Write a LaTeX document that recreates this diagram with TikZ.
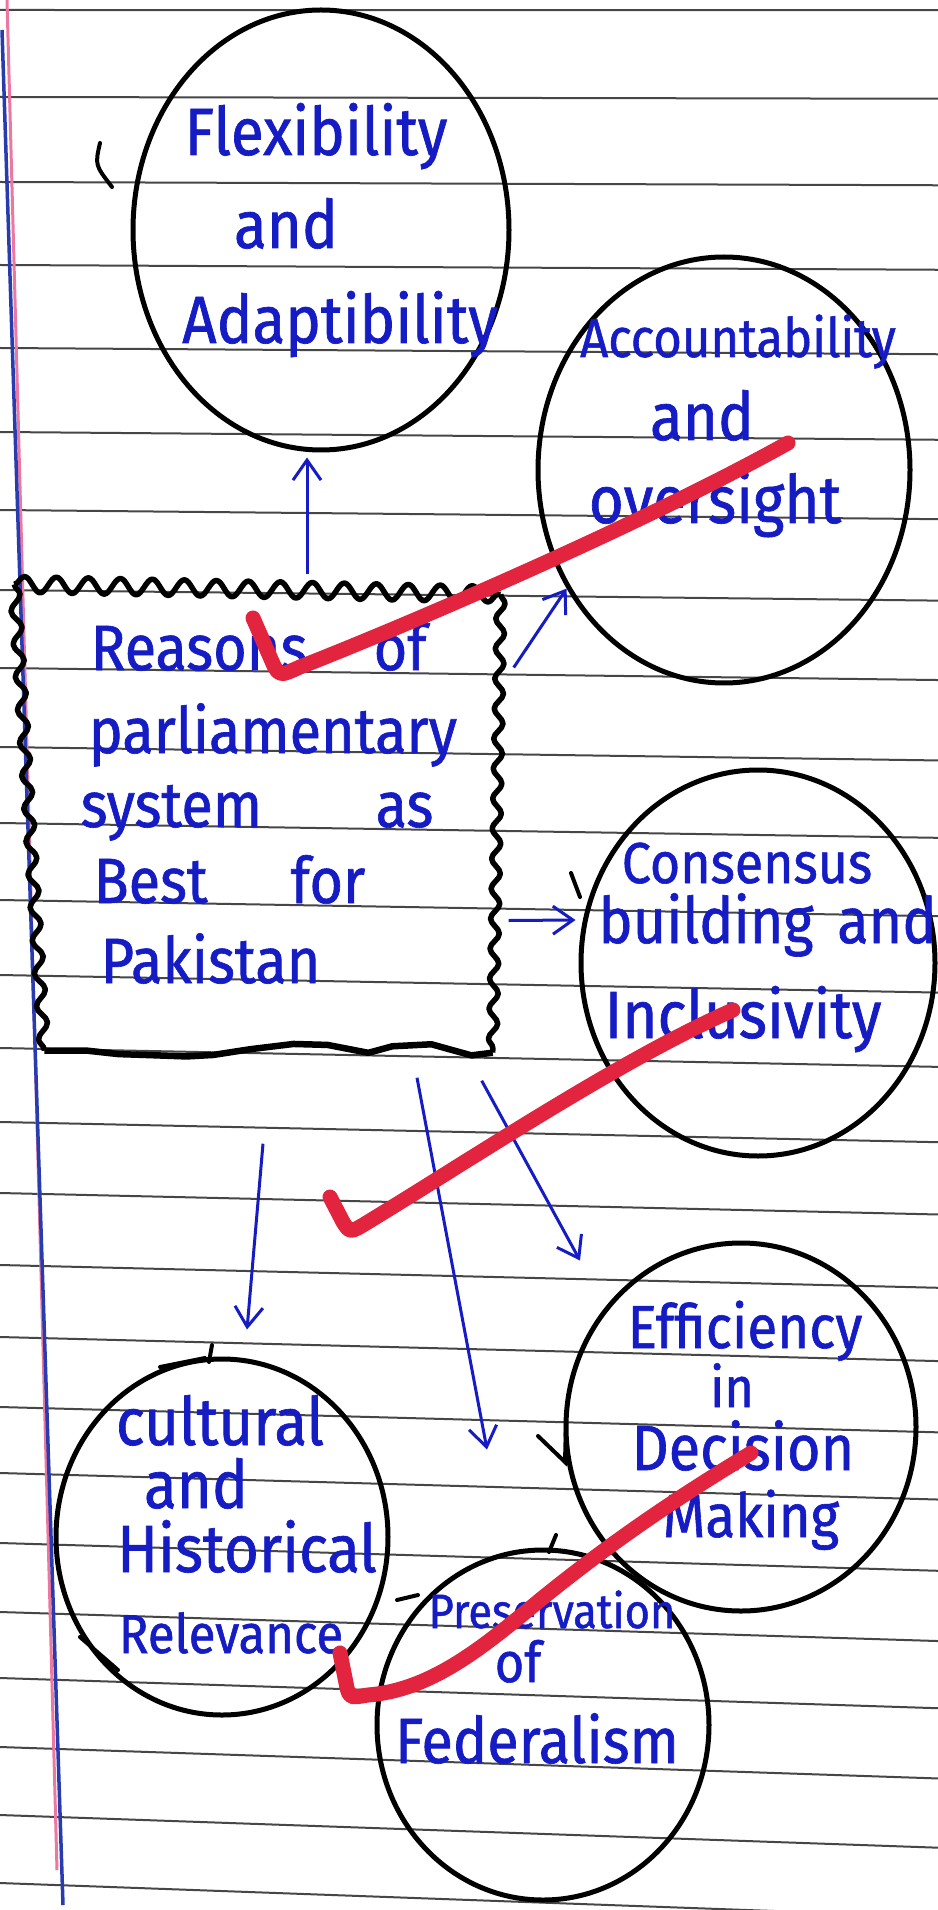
\documentclass[tikz,border=0pt]{standalone}
\usepackage{fontspec}
\newfontfamily\hand[FakeStretch=0.9, FakeBold=1]{Fira Sans}
\usetikzlibrary{shapes.geometric, arrows.meta, decorations.pathmorphing}
\definecolor{inkblue}{RGB}{22,28,196}
\definecolor{tickred}{RGB}{226,36,62}
\definecolor{rulegray}{RGB}{70,70,70}
\definecolor{marginblue}{RGB}{40,60,175}
\definecolor{marginpink}{RGB}{236,120,160}
\newcommand{\hsz}[1]{\hand\fontsize{#1}{#1}\selectfont}

\begin{document}
\begin{tikzpicture}[
    x=0.1mm, y=-0.1mm,
    bubble/.style={ellipse, draw=black, line width=0.5mm, inner sep=0pt},
    ink/.style={text=inkblue, anchor=base, inner sep=0pt},
    arrow/.style={draw=inkblue, line width=0.3mm, -{Straight Barb[length=2mm, width=2.8mm]}},
    rule/.style={draw=rulegray, line width=0.2mm},
    wavy/.style={draw=black, line width=0.55mm, line join=round, decorate, decoration={snake, segment length=3.2mm, amplitude=0.8mm}},
    stray/.style={draw=black, line width=0.4mm, line cap=round},
    tickmark/.style={draw=tickred, line width=1.5mm, line cap=round, line join=round}
]
\useasboundingbox (0,0) rectangle (938,1910);
\fill[white] (0,0) rectangle (938,1910);

% ruled paper
\foreach \y in {10,97,182,265,348,432,510,590,668,747,823,900,975,1048,1122,1193,1265,1337,1407,1473,1543,1612,1678,1747,1815,1883}
    \draw[rule] (0,\y) -- (938,{\y+0.018*\y});
\draw[marginpink, line width=0.3mm] (7,0) -- (57,1870);
\draw[marginblue, line width=0.35mm] (2,30) -- (63,1905);

% central box
\node[rectangle, minimum width=48mm, minimum height=46.7mm, inner sep=0pt] (reasons) at (260,818.5) {};
\draw[wavy] ([shift={(-5,0)}]reasons.north west) -- ([shift={(0,10)}]reasons.north east);
\draw[wavy, decoration={snake, segment length=3.3mm, amplitude=0.5mm}] ([shift={(-5,0)}]reasons.north west) -- ([shift={(25,-2)}]reasons.south west);
\draw[wavy, decoration={snake, segment length=3mm, amplitude=0.45mm}] ([shift={(0,10)}]reasons.north east) -- ([shift={(-8,0)}]reasons.south east);
\pgfmathsetseed{11}
\draw[wavy, line width=0.65mm, decoration={random steps, segment length=3.5mm, amplitude=1mm}] ([shift={(25,-2)}]reasons.south west) -- ([shift={(-8,0)}]reasons.south east);

\node[ink, anchor=base west, font=\hsz{18.2}] (rsn1) at (90,670) {Reasons};
\node[ink, anchor=base west, font=\hsz{18.2}] (rsn2) at (373,670) {of};
\node[ink, anchor=base west, font=\hsz{18.2}] (rsn3) at (88,753) {parliamentary};
\node[ink, anchor=base west, font=\hsz{18.2}] (rsn4) at (80,827) {system};
\node[ink, anchor=base west, font=\hsz{18.2}] (rsn5) at (375,827) {as};
\node[ink, anchor=base west, font=\hsz{18.2}] (rsn6) at (93,903) {Best};
\node[ink, anchor=base west, font=\hsz{18.2}] (rsn7) at (290,903) {for};
\node[ink, anchor=base west, font=\hsz{18.2}] (rsn8) at (100,983) {Pakistan};

% bubbles
\node[bubble, minimum width=37.6mm, minimum height=44mm] (flex) at (321,230) {};
\node[bubble, minimum width=37.2mm, minimum height=42.6mm] (acc) at (724,470) {};
\node[bubble, minimum width=35.4mm, minimum height=38.6mm] (cons) at (758,963) {};
\node[bubble, minimum width=35mm, minimum height=36.8mm] (eff) at (741,1427) {};
\node[bubble, minimum width=33.2mm, minimum height=35.6mm] (cult) at (222,1537) {};
\node[bubble, minimum width=33.2mm, minimum height=35mm] (pres) at (543,1725) {};

\node[ink, font=\hsz{19}] (flex1) at (316,155) {Flexibility};
\node[ink, font=\hsz{19}] (flex2) at (286,248) {and};
\node[ink, font=\hsz{19}] (flex3) at (340,343) {Adaptibility};

\node[ink, font=\hsz{15.5}] (acc1) at (738,357) {Accountability};
\node[ink, font=\hsz{19}] (acc2) at (702,440) {and};
\node[ink, font=\hsz{19}] (acc3) at (715,523) {oversight};

\node[ink, font=\hsz{16.4}] (cons1) at (747,883) {Consensus};
\node[ink, font=\hsz{18.2}] (cons2) at (706,943) {building};
\node[ink, font=\hsz{18.2}] (cons3) at (887,943) {and};
\node[ink, font=\hsz{19}] (cons4) at (743,1038) {Inclusivity};

\node[ink, font=\hsz{17.3}] (eff1) at (745,1348) {Efficiency};
\node[ink, font=\hsz{16}] (eff2) at (732,1407) {in};
\node[ink, font=\hsz{18.2}] (eff3) at (743,1470) {Decision};
\node[ink, font=\hsz{17.3}] (eff4) at (751,1537) {Making};

\node[ink, font=\hsz{19}] (cult1) at (220,1445) {cultural};
\node[ink, font=\hsz{19}] (cult2) at (196,1508) {and};
\node[ink, font=\hsz{19}] (cult3) at (247,1572) {Historical};
\node[ink, font=\hsz{15.5}] (cult4) at (231,1653) {Relevance};

\node[ink, font=\hsz{13.7}] (pres1) at (552,1628) {Preservation};
\node[ink, font=\hsz{16}] (pres2) at (518,1682) {of};
\node[ink, font=\hsz{18.2}] (pres3) at (537,1763) {Federalism};

% arrows
\draw[arrow] ([shift={(47,-10)}]reasons.north) -- ([shift={(-14,5)}]flex.south);
\draw[arrow] ([shift={(13,-151)}]reasons.east) -- (acc.217);
\draw[arrow] ([shift={(8,102)}]reasons.east) -- ([shift={(-3,-43)}]cons.west);
\draw[arrow] ([shift={(-19,28)}]reasons.south east) -- ([shift={(-161,20)}]eff.north);
\draw[arrow] ([shift={(157,25)}]reasons.south) -- ([shift={(-56,-98)}]pres.north);
\draw[arrow] ([shift={(3,91)}]reasons.south) -- ([shift={(25,-27)}]cult.north);

% stray pen marks
\draw[stray] (100,143) .. controls (95,165) .. (112,187);
\draw[stray] (571,873) -- (580,897);
\draw[stray] (538,1436) -- (565,1462) -- (566,1422);
\draw[stray] (212,1345) -- (209,1362);
\draw[stray] (160,1367) -- (205,1358);
\draw[stray] (80,1637) -- (118,1670);
\draw[stray] (397,1600) -- (418,1595);
\draw[stray] (556,1535) -- (549,1552);

% teacher's ticks
\draw[tickmark] (253,618) -- (274,666) .. controls (280,676) .. (300,667)
    .. controls (420,620) and (650,520) .. (788,443);
\draw[tickmark] (330,1197) -- (343,1222) .. controls (350,1233) .. (368,1222)
    .. controls (470,1160) and (620,1060) .. (733,1010);
\draw[tickmark] (340,1653) -- (347,1688) .. controls (350,1698) .. (368,1695)
    .. controls (430,1690) and (480,1650) .. (540,1600)
    .. controls (620,1535) and (690,1490) .. (751,1453);

\end{tikzpicture}
\end{document}
